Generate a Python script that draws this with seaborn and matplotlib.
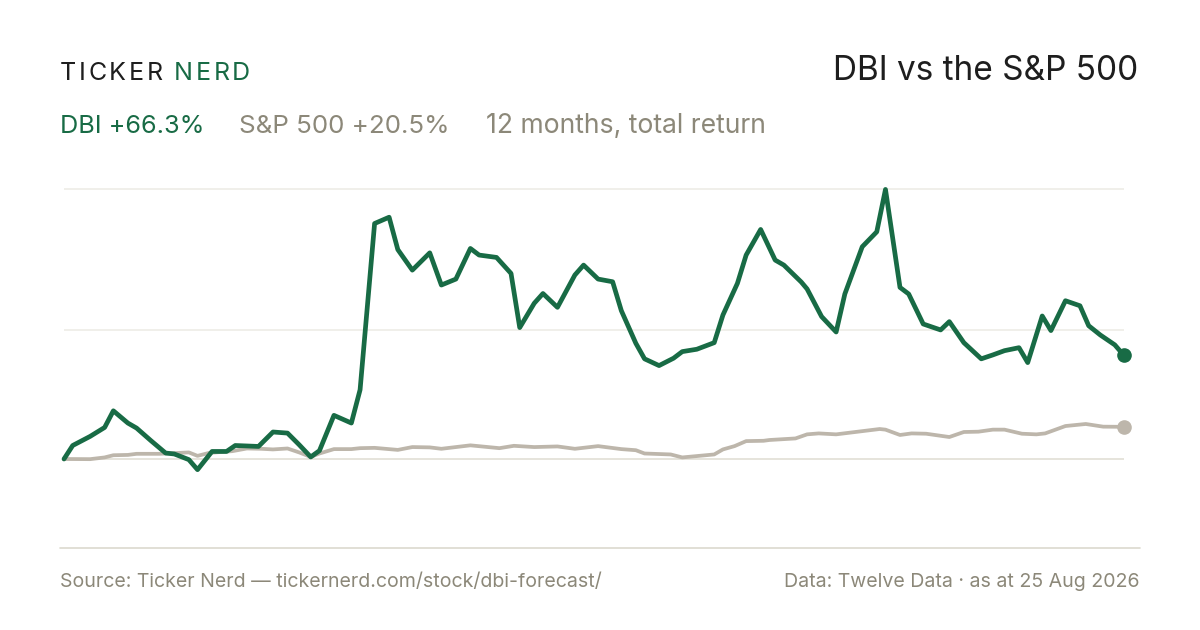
import numpy as np
import pandas as pd
import matplotlib
matplotlib.use("Agg")
import matplotlib.pyplot as plt
import seaborn as sns

# 12 months of total return, % vs start (day offsets from 25 Aug 2025)
dbi_days = [0, 3, 9, 14, 17, 22, 25, 30, 35, 38, 43, 46, 51, 56, 59, 67, 72, 77, 81, 85,
            88, 93, 99, 102, 107, 112, 115, 120, 126, 130, 135, 140, 143, 149, 154, 157,
            162, 165, 170, 176, 179, 184, 189, 192, 197, 200, 205, 210, 213, 218, 224,
            227, 232, 235, 240, 245, 248, 254, 256, 261, 266, 269, 275, 280, 283, 288,
            291, 296, 302, 305, 310, 316, 320, 324, 329, 332, 337, 340, 345, 350, 353,
            357, 362, 365]
dbi_ret = [0.0, 8.6, 14.4, 20.1, 30.7, 22.9, 19.7, 11.6, 3.8, 3.2, -0.4, -6.8, 4.8, 4.8,
           8.6, 8.0, 17.2, 16.5, 9.1, 1.3, 5.3, 27.8, 22.9, 44.1, 150.0, 154.0, 133.4,
           120.3, 131.3, 110.8, 114.6, 134.1, 129.9, 128.4, 118.2, 83.7, 99.2, 105.4,
           96.6, 117.2, 123.5, 114.6, 112.9, 94.5, 73.7, 63.8, 59.5, 64.2, 68.4, 69.9,
           74.1, 91.7, 111.9, 129.9, 146.2, 126.7, 123.5, 112.7, 108.3, 90.7, 80.9,
           105.1, 135.2, 144.7, 171.7, 109.3, 105.1, 86.0, 82.2, 87.5, 74.1, 63.8, 66.3,
           69.0, 70.9, 61.4, 91.1, 81.8, 100.8, 97.6, 84.9, 79.0, 72.7, 66.3]

spx_days = [0, 9, 14, 17, 22, 25, 33, 43, 46, 50, 58, 63, 68, 72, 77, 81, 85, 88, 93, 99,
            102, 107, 115, 120, 126, 130, 140, 150, 155, 162, 170, 176, 184, 192, 197,
            200, 209, 213, 224, 227, 231, 235, 241, 243, 252, 256, 260, 266, 281, 283,
            288, 292, 297, 305, 310, 315, 320, 324, 330, 335, 338, 345, 352, 358, 365]
spx_ret = [0.0, -0.1, 1.0, 2.4, 2.6, 3.3, 3.3, 4.2, 2.0, 3.9, 5.0, 6.7, 6.5, 6.1, 6.7,
           4.2, 1.3, 3.5, 6.3, 6.3, 6.9, 7.1, 5.8, 7.6, 7.4, 6.5, 8.7, 6.9, 8.4, 7.6,
           8.0, 6.5, 8.2, 6.3, 5.6, 3.5, 2.9, 1.0, 2.9, 6.1, 8.2, 11.4, 11.6, 12.1, 13.1,
           15.7, 16.3, 15.7, 19.1, 18.7, 15.3, 16.3, 16.1, 14.0, 17.2, 17.4, 18.7, 18.7,
           16.1, 15.7, 16.3, 21.0, 22.3, 20.6, 20.5]

title = "DBI vs the S&P 500"
dbi_label = "DBI +66.3%"
spx_label = "S&P 500 +20.5%"
period_label = "12 months, total return"
source_text = "Source: Ticker Nerd \u2014 tickernerd.com/stock/dbi-forecast/"
data_text = "Data: Twelve Data \u00b7 as at 25 Aug 2026"

GREEN = "#186B45"
SPX_GREY = "#BDB6AB"
TEXT_GREY = "#8C8879"
DARK = "#1E1E1E"

sns.set_theme(style="white")
plt.rcParams['font.family'] = ['Inter', 'DejaVu Sans']

W, H = 1200, 630
fig = plt.figure(figsize=(W / 100, H / 100), dpi=100)
fig.patch.set_facecolor("white")

# plot area in pixels
x0, x1 = 64, 1123.5
ytop, ybot = 170, 530
ax = fig.add_axes([x0 / W, 1 - ybot / H, (x1 - x0) / W, (ybot - ytop) / H])

dbi = pd.DataFrame({"day": dbi_days, "ret": dbi_ret})
spx = pd.DataFrame({"day": spx_days, "ret": spx_ret})

# gridlines: zero, mid of range, max
lo, hi = min(dbi_ret + spx_ret), max(dbi_ret + spx_ret)
for v in [hi, (hi + lo) / 2]:
    ax.axhline(v, color="#EEECE6", lw=1.2, zorder=0)
ax.axhline(0, color="#E2DFD6", lw=1.2, zorder=0)

sns.lineplot(data=spx, x="day", y="ret", ax=ax, color=SPX_GREY, lw=2.7,
             clip_on=False, zorder=2)
sns.lineplot(data=dbi, x="day", y="ret", ax=ax, color=GREEN, lw=3.4,
             clip_on=False, zorder=3)
ax.plot(spx_days[-1], spx_ret[-1], "o", color=SPX_GREY, ms=9.5, clip_on=False, zorder=4)
ax.plot(dbi_days[-1], dbi_ret[-1], "o", color=GREEN, ms=9.5, clip_on=False, zorder=5)

ax.set_xlim(0, 365)
ax.set_ylim((459 - ybot) / 1.57, (459 - ytop) / 1.57)
ax.set_axis_off()

# bottom rule
fig.add_artist(plt.Line2D([60 / W, 1140 / W], [1 - 548 / H, 1 - 548 / H],
                          color="#DCD9CE", lw=1.2))


def px(x, y):
    return x / W, 1 - y / H


renderer = fig.canvas.get_renderer()


def spaced(x, y, s, color, size, gap):
    for ch in s:
        t = fig.text(*px(x, y), ch, color=color, fontsize=size, va="baseline")
        bb = t.get_window_extent(renderer=renderer)
        x += bb.width + gap
    return x


# brand
xe = spaced(60, 79.5, "TICKER", DARK, 18, 2.6)
spaced(xe + 9, 79.5, "NERD", GREEN, 18, 2.6)

# title
fig.text(*px(1138, 80), title, ha="right", va="baseline", fontsize=24, color=DARK)

# subtitle
fig.text(*px(60, 133), dbi_label, va="baseline", fontsize=18.2, color=GREEN)
fig.text(*px(239, 133), spx_label, va="baseline", fontsize=18.7, color=TEXT_GREY)
fig.text(*px(486, 133), period_label, va="baseline", fontsize=19.1, color=TEXT_GREY)

# footer
fig.text(*px(60, 587), source_text, va="baseline", fontsize=14.1, color=TEXT_GREY)
fig.text(*px(1140, 587), data_text, ha="right", va="baseline", fontsize=14.1, color=TEXT_GREY)

fig.savefig("out.png", dpi=100, facecolor="white")
